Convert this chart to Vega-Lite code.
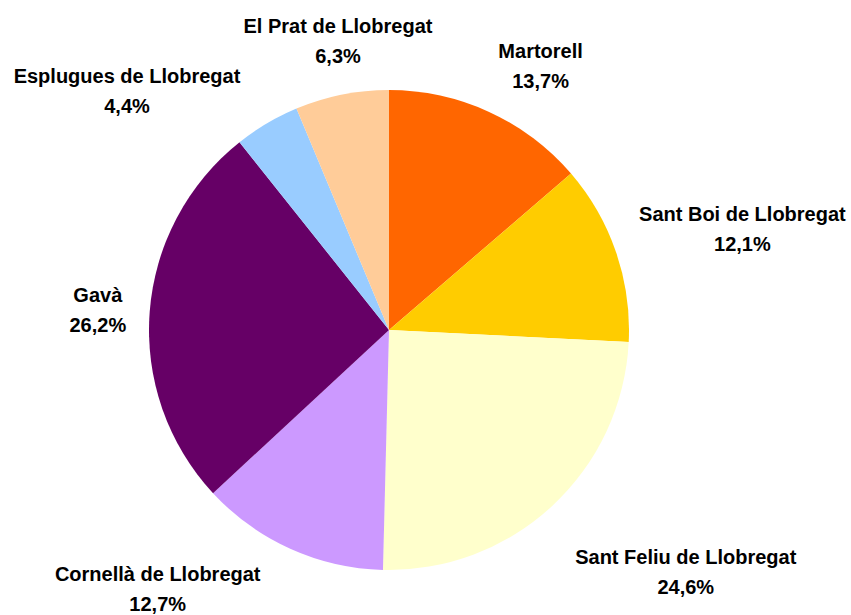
{
  "$schema": "https://vega.github.io/schema/vega-lite/v6.json",
  "width": 778,
  "height": 570,
  "autosize": "none",
  "padding": {"left": 0, "top": 45, "right": 73, "bottom": 0},
  "background": "white",
  "data": {
    "values": [
      {"k": 1, "name": "Martorell", "pct": 13.7, "label": "Martorell\n13,7%"},
      {"k": 2, "name": "Sant Boi de Llobregat", "pct": 12.1, "label": "Sant Boi de Llobregat\n12,1%"},
      {"k": 3, "name": "Sant Feliu de Llobregat", "pct": 24.6, "label": "Sant Feliu de Llobregat\n24,6%"},
      {"k": 4, "name": "Cornellà de Llobregat", "pct": 12.7, "label": "Cornellà de Llobregat\n12,7%"},
      {"k": 5, "name": "Gavà", "pct": 26.2, "label": "Gavà\n26,2%"},
      {"k": 6, "name": "Esplugues de Llobregat", "pct": 4.4, "label": "Esplugues de Llobregat\n4,4%"},
      {"k": 7, "name": "El Prat de Llobregat", "pct": 6.3, "label": "El Prat de Llobregat\n6,3%"}
    ]
  },
  "encoding": {
    "theta": {"field": "pct", "type": "quantitative", "stack": true},
    "order": {"field": "k", "type": "quantitative"},
    "detail": {"field": "name", "type": "nominal"}
  },
  "layer": [
    {
      "mark": {"type": "arc", "outerRadius": 240},
      "encoding": {
        "color": {
          "field": "name",
          "type": "nominal",
          "scale": {
            "domain": ["Martorell", "Sant Boi de Llobregat", "Sant Feliu de Llobregat", "Cornellà de Llobregat", "Gavà", "Esplugues de Llobregat", "El Prat de Llobregat"],
            "range": ["#FF6600", "#FFCC00", "#FFFFCC", "#CC99FF", "#660066", "#99CCFF", "#FFCC99"]
          },
          "legend": null
        }
      }
    },
    {
      "mark": {"type": "text", "radius": 289, "dx": 31, "dy": -15},
      "encoding": {"text": {"condition": {"test": "datum.name === 'Martorell'", "field": "label", "type": "nominal"}, "value": ""}}
    },
    {
      "mark": {"type": "text", "radius": 308, "dx": 62, "dy": -15},
      "encoding": {"text": {"condition": {"test": "datum.name === 'Sant Boi de Llobregat'", "field": "label", "type": "nominal"}, "value": ""}}
    },
    {
      "mark": {"type": "text", "radius": 332, "dx": 71, "dy": -15},
      "encoding": {"text": {"condition": {"test": "datum.name === 'Sant Feliu de Llobregat'", "field": "label", "type": "nominal"}, "value": ""}}
    },
    {
      "mark": {"type": "text", "radius": 285, "dx": -114, "dy": -15},
      "encoding": {"text": {"condition": {"test": "datum.name === 'Cornellà de Llobregat'", "field": "label", "type": "nominal"}, "value": ""}}
    },
    {
      "mark": {"type": "text", "radius": 292, "dy": -12},
      "encoding": {"text": {"condition": {"test": "datum.name === 'Gavà'", "field": "label", "type": "nominal"}, "value": ""}}
    },
    {
      "mark": {"type": "text", "radius": 277, "dx": -121, "dy": -15},
      "encoding": {"text": {"condition": {"test": "datum.name === 'Esplugues de Llobregat'", "field": "label", "type": "nominal"}, "value": ""}}
    },
    {
      "mark": {"type": "text", "radius": 295, "dx": 7, "dy": -14},
      "encoding": {"text": {"condition": {"test": "datum.name === 'El Prat de Llobregat'", "field": "label", "type": "nominal"}, "value": ""}}
    }
  ],
  "config": {
    "view": {"stroke": null},
    "text": {"font": "Liberation Sans, Arial, sans-serif", "fontSize": 20, "fontWeight": "bold", "lineBreak": "\n", "lineHeight": 30, "color": "black", "align": "center", "baseline": "middle"}
  }
}
